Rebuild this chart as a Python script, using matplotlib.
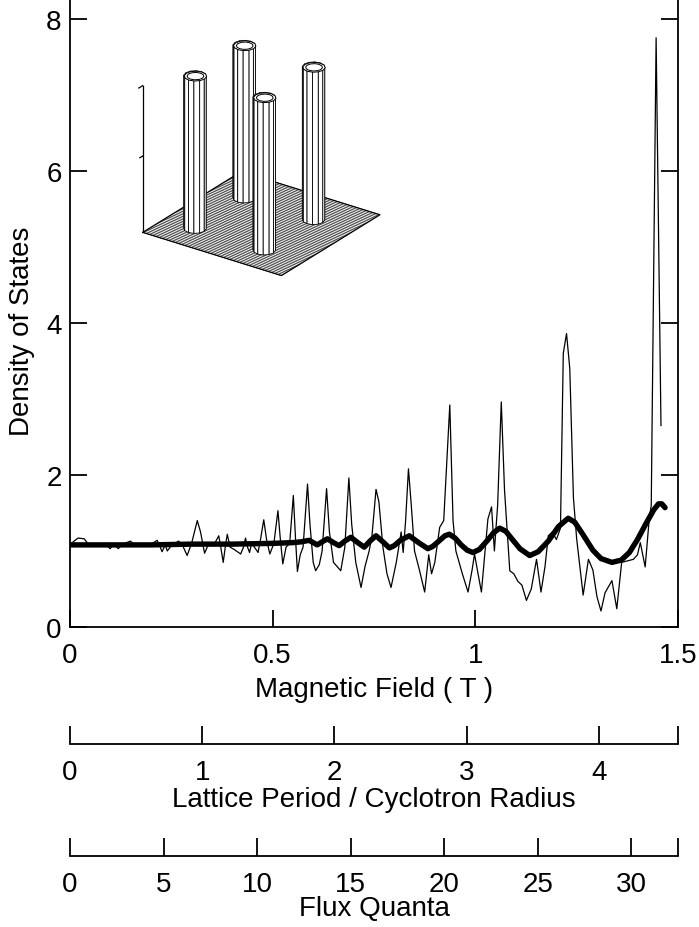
import numpy as np
import matplotlib
matplotlib.use('Agg')
import matplotlib.pyplot as plt
from mpl_toolkits.mplot3d.art3d import Poly3DCollection

plt.rcParams['font.family'] = ['Liberation Sans', 'DejaVu Sans']

# ---------------- data ----------------
field_raw = [0.000, 0.010, 0.020, 0.035, 0.045, 0.070, 0.085, 0.099, 0.108, 0.119,
             0.130, 0.149, 0.160, 0.180, 0.200, 0.215, 0.222, 0.227, 0.235, 0.240,
             0.250, 0.268, 0.278, 0.289, 0.300, 0.314, 0.322, 0.332, 0.340, 0.355,
             0.367, 0.372, 0.378, 0.383, 0.388, 0.395, 0.405, 0.421, 0.428, 0.433,
             0.438, 0.443, 0.448, 0.455, 0.464, 0.470, 0.478, 0.485, 0.493, 0.503,
             0.513, 0.519, 0.525, 0.533, 0.542, 0.551, 0.556, 0.561, 0.568, 0.575,
             0.586, 0.592, 0.600, 0.606, 0.615, 0.622, 0.633, 0.640, 0.650, 0.668,
             0.678, 0.688, 0.695, 0.705, 0.718, 0.728, 0.738, 0.745, 0.755, 0.762,
             0.772, 0.782, 0.792, 0.805, 0.817, 0.822, 0.828, 0.835, 0.842, 0.850,
             0.862, 0.875, 0.885, 0.892, 0.900, 0.912, 0.922, 0.937, 0.945, 0.952,
             0.968, 0.982, 0.992, 0.998, 1.005, 1.015, 1.025, 1.031, 1.040, 1.047,
             1.055, 1.064, 1.072, 1.085, 1.095, 1.105, 1.115, 1.126, 1.138, 1.151,
             1.162, 1.172, 1.180, 1.190, 1.200, 1.210, 1.217, 1.225, 1.233, 1.242,
             1.250, 1.266, 1.279, 1.290, 1.300, 1.310, 1.320, 1.337, 1.349, 1.361,
             1.375, 1.390, 1.400, 1.407, 1.419, 1.429, 1.434, 1.446, 1.458]
dos_raw = [1.08, 1.13, 1.17, 1.16, 1.09, 1.08, 1.10, 1.03, 1.09, 1.03,
           1.09, 1.13, 1.08, 1.07, 1.09, 1.14, 1.06, 0.99, 1.08, 1.00,
           1.07, 1.13, 1.07, 0.94, 1.10, 1.40, 1.25, 0.97, 1.07, 1.08,
           1.20, 1.05, 0.85, 1.05, 1.22, 1.05, 1.02, 0.96, 1.05, 1.17,
           1.05, 0.98, 1.10, 1.05, 0.98, 1.15, 1.41, 1.15, 0.96, 1.10,
           1.53, 1.15, 0.83, 1.05, 1.10, 1.73, 1.20, 0.73, 0.95, 1.05,
           1.88, 1.35, 0.85, 0.74, 0.82, 1.00, 1.82, 1.25, 0.85, 0.74,
           1.05, 1.96, 1.35, 0.85, 0.52, 0.80, 1.00, 1.20, 1.81, 1.65,
           1.05, 0.70, 0.52, 0.85, 1.25, 0.98, 1.40, 2.08, 1.60, 1.00,
           0.75, 0.46, 0.95, 0.70, 0.85, 1.31, 1.40, 2.92, 1.40, 1.00,
           0.70, 0.46, 0.75, 0.96, 0.75, 0.46, 1.05, 1.42, 1.58, 1.00,
           1.60, 2.96, 1.80, 0.74, 0.70, 0.60, 0.55, 0.35, 0.50, 0.89,
           0.46, 0.80, 1.20, 1.25, 1.15, 1.30, 3.60, 3.86, 3.40, 1.70,
           1.16, 0.42, 0.89, 0.75, 0.40, 0.21, 0.45, 0.61, 0.24, 0.85,
           0.87, 0.89, 0.95, 1.11, 0.79, 1.42, 1.60, 7.75, 2.65]

field_avg = [0.00, 0.10, 0.20, 0.30, 0.40, 0.50, 0.55, 0.57, 0.59, 0.60,
             0.61, 0.622, 0.635, 0.65, 0.664, 0.678, 0.693, 0.71, 0.726, 0.74,
             0.755, 0.772, 0.788, 0.80, 0.815, 0.837, 0.86, 0.883, 0.895, 0.91,
             0.925, 0.936, 0.95, 0.965, 0.98, 0.994, 1.01, 1.03, 1.045, 1.060,
             1.075, 1.09, 1.11, 1.134, 1.155, 1.18, 1.205, 1.229, 1.245, 1.265,
             1.29, 1.31, 1.337, 1.36, 1.38, 1.40, 1.42, 1.44, 1.452, 1.46, 1.468]
dos_avg = [1.08, 1.08, 1.08, 1.09, 1.09, 1.10, 1.11, 1.12, 1.14, 1.11,
           1.08, 1.12, 1.16, 1.11, 1.07, 1.13, 1.18, 1.11, 1.05, 1.13,
           1.20, 1.12, 1.04, 1.07, 1.14, 1.20, 1.11, 1.03, 1.06, 1.13,
           1.20, 1.22, 1.17, 1.08, 1.01, 0.98, 1.02, 1.14, 1.24, 1.30,
           1.26, 1.16, 1.03, 0.94, 0.99, 1.13, 1.32, 1.43, 1.38, 1.22,
           1.01, 0.90, 0.85, 0.88, 0.98, 1.15, 1.35, 1.54, 1.62, 1.62, 1.57]

field_ticks = [0, 0.5, 1, 1.5]
field_ticklabels = ['0', '0.5', '1', '1.5']
dos_ticks = [0, 2, 4, 6, 8]
ratio_ticks = [0, 1, 2, 3, 4]
ratio_max = 4.6
flux_ticks = [0, 5, 10, 15, 20, 25, 30]
flux_max = 32.5

# inset: antidot lattice potential (four pillars on a flat floor)
pillar_x = [0.22, 0.22, 0.72, 0.72]
pillar_y = [0.22, 0.72, 0.22, 0.72]
pillar_height = 1.0
pillar_radius = 0.066

# ---------------- figure ----------------
W, H = 699, 928
fig = plt.figure(figsize=(W / 100, H / 100), dpi=100)
FS = 20

ax = fig.add_axes([70 / W, 1 - 628 / H, 608 / W, 628 / H])
ax.plot(field_raw, dos_raw, color='black', lw=0.9)
ax.plot(field_avg, dos_avg, color='black', lw=3.9, solid_capstyle='round',
        solid_joinstyle='round')
ax.set_xlim(0, 1.5)
ax.set_ylim(0, 8.26)
ax.spines['top'].set_visible(False)
for s in ax.spines.values():
    s.set_linewidth(1.3)
ax.set_xticks(field_ticks)
ax.set_xticklabels(field_ticklabels)
ax.set_yticks(dos_ticks)
ax.tick_params(axis='both', direction='in', length=12, width=1.3,
               labelsize=FS, right=True, labelright=False)
ax.tick_params(axis='x', pad=11)
ax.tick_params(axis='y', pad=6)
ax.set_xlabel('Magnetic Field ( T )', fontsize=FS, labelpad=5.5)
ax.set_ylabel('Density of States', fontsize=FS)
ax.yaxis.set_label_coords(-0.058, 0.473)


def scale_axis(ybottom, ticks, vmax, label, lpad):
    a = fig.add_axes([70 / W, 1 - ybottom / H, 608 / W, 0.0005])
    a.set_xlim(0, vmax)
    a.set_ylim(0, 1)
    for k in ('left', 'right', 'top'):
        a.spines[k].set_visible(False)
    a.spines['bottom'].set_linewidth(1.3)
    a.set_yticks([])
    a.set_xticks(ticks)
    a.set_xticklabels([str(t) for t in ticks])
    a.set_xticks([vmax], minor=True)
    a.tick_params(axis='x', which='both', direction='in', length=13, width=1.3,
                  labelsize=FS, pad=11)
    a.set_xlabel(label, fontsize=FS, labelpad=lpad)
    a.patch.set_visible(False)
    return a


scale_axis(745, ratio_ticks, ratio_max, 'Lattice Period / Cyclotron Radius', 0.5)
scale_axis(857, flux_ticks, flux_max, 'Flux Quanta', -1.5)

# ---------------- 3D inset ----------------
ax3 = fig.add_axes([114.5 / W, 1 - 295 / H, 286 / W, 286 / H], projection='3d')
ax3.set_proj_type('ortho')
ax3.view_init(elev=26, azim=-54.6)
ax3.set_box_aspect((1, 1, 1))
ax3.set_xlim(0, 1)
ax3.set_ylim(0, 1)
ax3.set_zlim(0, 1)
ax3.set_axis_off()
ax3.patch.set_visible(False)
ax3.computed_zorder = False

grid = np.linspace(0, 1, 56)
gx, gy = np.meshgrid(grid, grid)
gz = np.zeros_like(gx)
ax3.plot_wireframe(gx, gy, gz, rstride=1, cstride=0, color='black', lw=0.45, zorder=1)
ax3.plot([0, 1, 1, 0, 0], [0, 0, 1, 1, 0], [0, 0, 0, 0, 0], color='black', lw=0.9, zorder=1)
ax3.plot([0, 0], [0, 0], [0, 0.96], color='black', lw=0.9, zorder=1)
ax3.plot([0, 0], [0, -0.04], [0.96, 0.96], color='black', lw=0.9, zorder=1)
ax3.plot([0, 0], [0, -0.03], [0.5, 0.5], color='black', lw=0.9, zorder=1)

theta = np.linspace(0, 2 * np.pi, 13)
zz = np.array([0.0, pillar_height])
T, Z = np.meshgrid(theta, zz)
for i, (px, py) in enumerate(zip(pillar_x, pillar_y)):
    X = px + pillar_radius * np.cos(T)
    Y = py + pillar_radius * np.sin(T)
    ax3.plot_surface(X, Y, Z, color='white', edgecolor='black', lw=0.6,
                     shade=False, zorder=2 + i)
    for rf in (1.0, 0.75):
        verts = [list(zip(px + rf * pillar_radius * np.cos(theta),
                          py + rf * pillar_radius * np.sin(theta),
                          np.full_like(theta, pillar_height)))]
        cap = Poly3DCollection(verts, facecolor='white', edgecolor='black', lw=0.7)
        cap.set_zorder(2.5 + i)
        ax3.add_collection3d(cap)

fig.savefig('out.png', dpi=100)
